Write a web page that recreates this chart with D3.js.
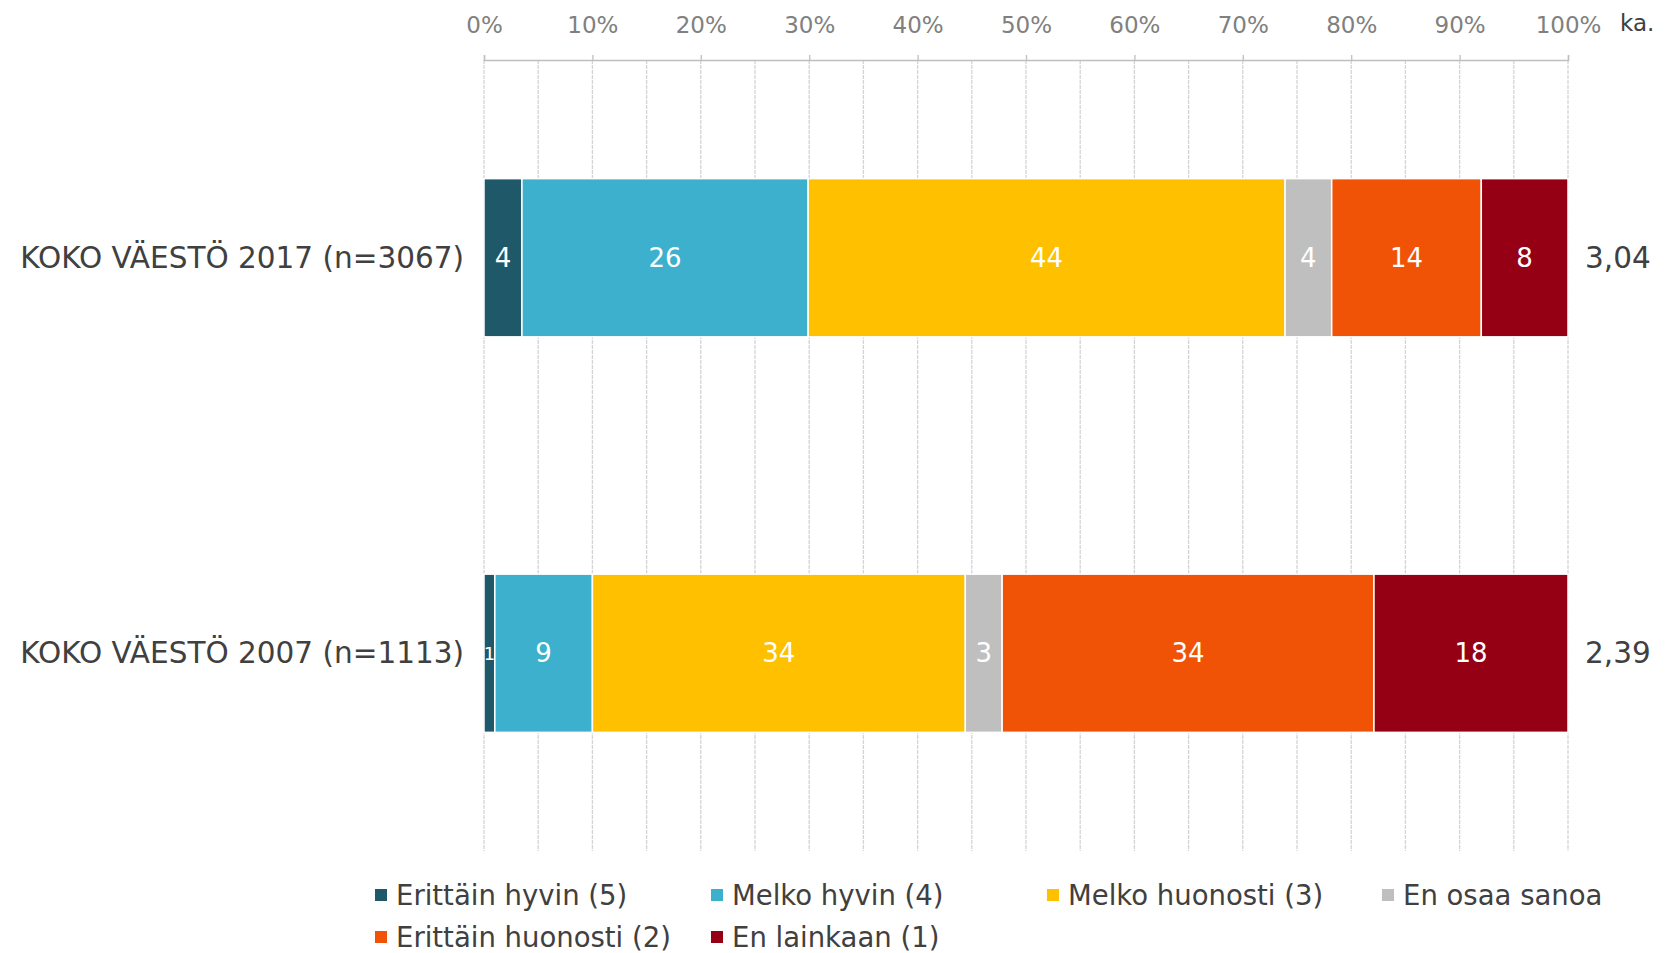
<!DOCTYPE html>
<html>
<head>
<meta charset="utf-8">
<script src="https://cdn.jsdelivr.net/npm/d3@7"></script>
<style>
  body { margin: 0; background: #fff; }
  svg text { font-family: "DejaVu Sans", Verdana, sans-serif; }
  .grid line { stroke: #d4d4d4; stroke-width: 1.3; stroke-dasharray: 4,1; }
</style>
</head>
<body>
<div id="chart"></div>
<script>
const categories = ['KOKO VÄESTÖ 2017 (n=3067)', 'KOKO VÄESTÖ 2007 (n=1113)']
const seriesNames = ['Erittäin hyvin (5)', 'Melko hyvin (4)', 'Melko huonosti (3)', 'En osaa sanoa', 'Erittäin huonosti (2)', 'En lainkaan (1)']
const seriesColors = ['#1f5868', '#3cb0cc', '#ffc000', '#bfbfbf', '#f05206', '#960014']
const values2017 = [3.5, 26.4, 44.0, 4.3, 13.8, 8.0]
const values2007 = [1.0, 9.0, 34.4, 3.4, 34.3, 17.9]
const averages = ['3,04', '2,39']
const tickValues = [0, 10, 20, 30, 40, 50, 60, 70, 80, 90, 100]

const width = 1665
const height = 953
const margin = { top: 60, left: 484, right: 97, bottom: 102 }

const svg = d3.select('#chart')
  .append('svg')
  .attr('width', width)
  .attr('height', height)

const x = d3.scaleLinear().domain([0, 100]).range([margin.left, width - margin.right])
const y = d3.scaleBand().domain(categories)
  .range([margin.top, height - margin.bottom])
  .paddingInner(0.6).paddingOuter(0.3)

// grid lines every 5 %
svg.append('g').attr('class', 'grid')
  .selectAll('line')
  .data(d3.range(0, 101, 5))
  .join('line')
  .attr('x1', d => x(d)).attr('x2', d => x(d))
  .attr('y1', margin.top).attr('y2', height - margin.bottom)

// top axis
const axis = svg.append('g')
  .attr('transform', `translate(0,${margin.top})`)
  .call(d3.axisTop(x).tickValues(tickValues).tickSize(5).tickPadding(22).tickFormat(d => d + '%'))
axis.select('.domain').attr('stroke', '#bfbfbf').attr('stroke-width', 1.5)
axis.selectAll('.tick line').attr('stroke', '#bfbfbf').attr('stroke-width', 1.3)
axis.selectAll('.tick text').attr('fill', '#808080').attr('font-size', 23)

svg.append('text')
  .attr('x', x(100) + 52).attr('y', 23)
  .attr('dominant-baseline', 'central')
  .attr('font-size', 23).attr('fill', '#404040')
  .text('ka.')

// stacked bars
const rows = [values2017, values2007].map((vals, i) => {
  let acc = 0
  return vals.map((v, j) => {
    const seg = { cat: categories[i], key: j, x0: acc, x1: acc + v, v }
    acc += v
    return seg
  })
})

const barG = svg.append('g')
rows.forEach(row => {
  const g = barG.append('g')
  g.selectAll('rect')
    .data(row)
    .join('rect')
    .attr('x', d => x(d.x0))
    .attr('width', d => x(d.x1) - x(d.x0))
    .attr('y', d => y(d.cat))
    .attr('height', y.bandwidth())
    .attr('fill', d => seriesColors[d.key])
    .attr('stroke', '#fff')
    .attr('stroke-width', 1.5)

  g.selectAll('text')
    .data(row)
    .join('text')
    .attr('x', d => (x(d.x0) + x(d.x1)) / 2)
    .attr('y', d => y(d.cat) + y.bandwidth() / 2)
    .attr('text-anchor', 'middle')
    .attr('dominant-baseline', 'central')
    .attr('fill', '#fff')
    .attr('font-size', d => d.v < 2 ? 18 : 26)
    .text(d => d3.format('.0f')(d.v))
})

// category labels
svg.append('g')
  .selectAll('text')
  .data(categories)
  .join('text')
  .attr('x', margin.left - 20)
  .attr('y', d => y(d) + y.bandwidth() / 2)
  .attr('text-anchor', 'end')
  .attr('dominant-baseline', 'central')
  .attr('font-size', 29.5)
  .attr('fill', '#404040')
  .text(d => d)

// averages
svg.append('g')
  .selectAll('text')
  .data(averages)
  .join('text')
  .attr('x', x(100) + 17)
  .attr('y', (d, i) => y(categories[i]) + y.bandwidth() / 2)
  .attr('dominant-baseline', 'central')
  .attr('font-size', 29.5)
  .attr('fill', '#404040')
  .text(d => d)

// legend
const legendCols = [375, 711, 1047, 1382]
const legendRows = [895, 937]
const legend = svg.append('g')
  .selectAll('g')
  .data(seriesNames)
  .join('g')
  .attr('transform', (d, i) => `translate(${legendCols[i % 4]},${legendRows[Math.floor(i / 4)]})`)
legend.append('rect')
  .attr('x', 0).attr('y', -6).attr('width', 12).attr('height', 12)
  .attr('fill', (d, i) => seriesColors[i])
legend.append('text')
  .attr('x', 21)
  .attr('dominant-baseline', 'central')
  .attr('font-size', 27.5)
  .attr('fill', '#404040')
  .text(d => d)
</script>
</body>
</html>
